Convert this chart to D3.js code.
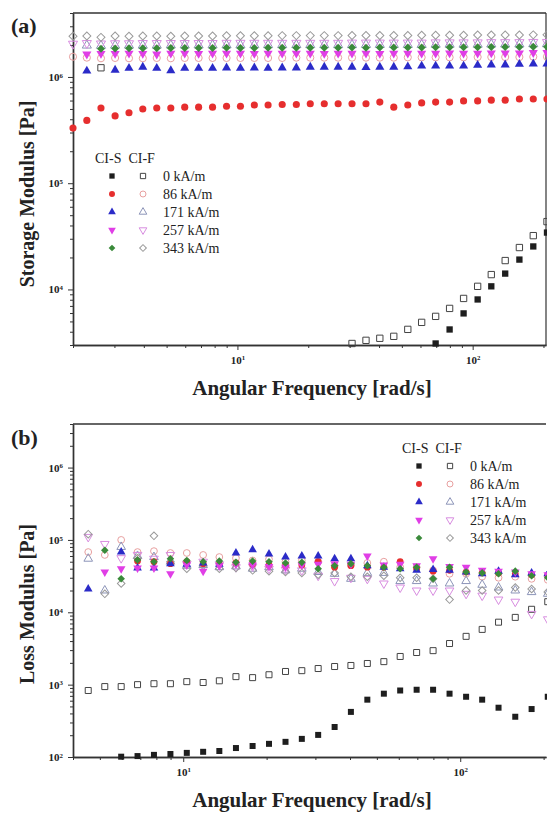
<!DOCTYPE html>
<html>
<head>
<meta charset="utf-8" />
<title>Storage and loss modulus vs angular frequency</title>
<script src="https://cdnjs.cloudflare.com/ajax/libs/d3/7.8.5/d3.min.js"></script>
<style>
  body { margin: 0; padding: 0; background: #fff; }
  svg { display: block; font-family: "Liberation Serif", "Times New Roman", serif; }
</style>
</head>
<body>
<div id="chart"></div>
<script>
var _ = null;

// ---- panel (a): storage modulus, Pa ----
var freqA = [2.0, 2.29, 2.63, 3.02, 3.46, 3.96, 4.54, 5.21, 5.97, 6.84, 7.84, 8.99, 10.3, 11.8, 13.5, 15.5, 17.8, 20.4,
             23.4, 26.8, 30.7, 35.2, 40.3, 46.2, 53.0, 60.7, 69.6, 79.8, 91.5, 105, 120, 137.5, 158, 181, 207];

var storS0   = [_, _, _, _, _, _, _, _, _, _, _, _, _, _, _, _, _, _, _, _, _, _, _, _, _, _,
                3100, 4200, 5950, 8050, 10700, 14100, 19100, 25400, 34300];
var storS86  = [3.3e5, 3.9e5, 5.1e5, 4.3e5, 4.6e5, 5.0e5, 5.1e5, 5.1e5, 5.2e5, 5.2e5, 5.2e5, 5.3e5, 5.3e5, 5.45e5, 5.45e5, 5.5e5, 5.5e5, 5.6e5,
                5.6e5, 5.6e5, 5.6e5, 5.6e5, 5.8e5, 5.2e5, 5.45e5, 5.7e5, 5.8e5, 5.8e5, 5.95e5, 5.95e5, 6.05e5, 6.05e5, 6.2e5, 6.2e5, 6.2e5];
var storS171 = [_, 1.14e6, _, 1.16e6, 1.21e6, 1.24e6, 1.21e6, 1.15e6, 1.21e6, 1.21e6, 1.21e6, 1.22e6, 1.21e6, 1.22e6, 1.21e6, 1.22e6, 1.22e6, 1.24e6,
                1.24e6, 1.24e6, 1.24e6, 1.23e6, 1.24e6, 1.24e6, 1.25e6, 1.27e6, 1.27e6, 1.27e6, 1.27e6, 1.29e6, 1.30e6, 1.30e6, 1.32e6, 1.33e6, 1.33e6];
var storS257 = [_, 1.64e6, 1.66e6, 1.66e6, 1.67e6, 1.66e6, 1.64e6, 1.67e6, 1.67e6, 1.66e6, 1.67e6, 1.67e6, 1.67e6, 1.66e6, 1.67e6, 1.67e6, 1.67e6, 1.67e6,
                1.66e6, 1.67e6, 1.67e6, 1.67e6, 1.66e6, 1.67e6, 1.67e6, 1.67e6, 1.67e6, 1.68e6, 1.67e6, 1.67e6, 1.68e6, 1.68e6, 1.68e6, 1.69e6, 1.69e6];
var storS343 = [_, _, 1.84e6, 1.85e6, 1.86e6, 1.86e6, 1.86e6, 1.87e6, 1.87e6, 1.87e6, 1.87e6, 1.88e6, 1.87e6, 1.87e6, 1.88e6, 1.88e6, 1.88e6, 1.88e6,
                1.88e6, 1.88e6, 1.89e6, 1.88e6, 1.89e6, 1.89e6, 1.89e6, 1.89e6, 1.90e6, 1.90e6, 1.90e6, 1.90e6, 1.91e6, 1.91e6, 1.91e6, 1.92e6, 1.92e6];
var storF0   = [_, _, 1.22e6, _, _, _, _, _, _, _, _, _, _, _, _, _, _, _, _, _,
                3100, 3320, 3470, 3620, 4210, 4900, 5580, 6630, 8230, 10700, 13800, 18700, 24800, 32100, 43500];
var storF86  = [1.55e6, 1.52e6, 1.50e6, 1.51e6, 1.50e6, 1.50e6, 1.51e6, 1.50e6, 1.51e6, 1.51e6, 1.51e6, 1.51e6, 1.51e6, 1.51e6, 1.51e6, 1.51e6, 1.52e6, 1.52e6,
                1.52e6, 1.52e6, 1.52e6, 1.52e6, 1.52e6, 1.52e6, 1.53e6, 1.53e6, 1.53e6, 1.53e6, 1.53e6, 1.54e6, 1.54e6, 1.54e6, 1.54e6, 1.55e6, 1.55e6];
var storF171 = [_, 1.98e6, 1.97e6, 1.98e6, 1.98e6, 1.98e6, 1.98e6, 1.99e6, 1.99e6, 1.99e6, 1.99e6, 1.99e6, 1.99e6, 2.00e6, 2.00e6, 2.00e6, 2.00e6, 2.00e6,
                2.00e6, 2.00e6, 2.00e6, 2.01e6, 2.01e6, 2.01e6, 2.01e6, 2.01e6, 2.02e6, 2.02e6, 2.02e6, 2.02e6, 2.03e6, 2.03e6, 2.03e6, 2.04e6, 2.04e6];
var storF257 = [2.05e6, 2.08e6, 2.06e6, 2.07e6, 2.07e6, 2.08e6, 2.08e6, 2.08e6, 2.08e6, 2.08e6, 2.08e6, 2.09e6, 2.09e6, 2.09e6, 2.09e6, 2.09e6, 2.09e6, 2.09e6,
                2.09e6, 2.09e6, 2.10e6, 2.10e6, 2.10e6, 2.10e6, 2.10e6, 2.10e6, 2.11e6, 2.11e6, 2.11e6, 2.11e6, 2.12e6, 2.12e6, 2.12e6, 2.13e6, 2.13e6];
var storF343 = [2.42e6, 2.43e6, 2.36e6, 2.43e6, 2.42e6, 2.43e6, 2.43e6, 2.42e6, 2.43e6, 2.43e6, 2.43e6, 2.44e6, 2.44e6, 2.44e6, 2.44e6, 2.45e6, 2.45e6, 2.45e6,
                2.45e6, 2.45e6, 2.46e6, 2.46e6, 2.46e6, 2.46e6, 2.46e6, 2.47e6, 2.47e6, 2.47e6, 2.47e6, 2.48e6, 2.48e6, 2.48e6, 2.48e6, 2.49e6, 2.49e6];

// ---- panel (b): loss modulus, Pa ----
var freqB = [4.54, 5.21, 5.97, 6.84, 7.84, 8.99, 10.3, 11.8, 13.5, 15.5, 17.8, 20.4, 23.4, 26.8, 30.7,
             35.2, 40.3, 46.2, 53.0, 60.7, 69.6, 79.8, 91.5, 105, 120, 137.5, 158, 181, 207];

var lossS0   = [_, _, 101, 103, 107, 110, 114, 118, 121, 133, 142, 152, 162, 178, 202,
                260, 420, 620, 750, 830, 850, 850, 750, 680, 620, 480, 360, 460, 680];
var lossS86  = [_, _, _, 5.1e4, 5.0e4, 4.7e4, 5.0e4, 4.7e4, 4.6e4, 4.8e4, 4.6e4, 4.5e4, 4.4e4, 4.5e4, 5.0e4,
                4.2e4, 4.4e4, 4.2e4, 4.2e4, 5.0e4, 4.0e4, 3.7e4, 3.8e4, 3.6e4, 3.5e4, 3.5e4, 3.4e4, 3.3e4, 3.2e4];
var lossS171 = [2.1e4, _, 6.8e4, 4.1e4, 4.1e4, 4.7e4, 4.6e4, 4.8e4, 4.6e4, 6.6e4, 7.3e4, 6.4e4, 5.8e4, 6.0e4, 6.0e4,
                5.5e4, 5.5e4, 4.4e4, 4.2e4, 4.0e4, 3.8e4, 3.9e4, 3.8e4, 3.6e4, 3.4e4, 3.7e4, 3.3e4, 3.5e4, 3.4e4];
var lossS257 = [_, 3.6e4, 4.0e4, 4.1e4, 4.1e4, 3.4e4, 4.5e4, 3.7e4, 4.4e4, 4.6e4, 4.5e4, 4.3e4, 4.2e4, 4.5e4, 4.6e4,
                4.7e4, 4.6e4, 6.0e4, 4.5e4, 4.6e4, 4.4e4, 5.5e4, 4.3e4, 4.2e4, 3.8e4, 3.7e4, 3.6e4, 3.4e4, 3.3e4];
var lossS343 = [_, 7.2e4, 2.9e4, 5.3e4, 5.0e4, 5.5e4, 5.2e4, 5.0e4, 5.1e4, 4.9e4, 5.1e4, 5.0e4, 4.8e4, 4.9e4, 4.0e4,
                4.4e4, 4.7e4, 4.4e4, 4.2e4, 4.0e4, 4.2e4, 2.9e4, 4.2e4, 3.6e4, 3.5e4, 3.4e4, 3.7e4, 3.2e4, 3.0e4];
var lossF0   = [830, 940, 940, 1000, 1030, 1030, 1100, 1070, 1130, 1290, 1250, 1370, 1520, 1560, 1670,
                1780, 1840, 1960, 2080, 2450, 2780, 2950, 3700, 4650, 5800, 7300, 8500, 11000, 14000];
var lossF86  = [6.8e4, 6.2e4, 1.0e5, 6.8e4, 7.0e4, 6.6e4, 6.6e4, 6.2e4, 5.8e4, 5.6e4, 5.2e4, 5.4e4, 5.0e4, 5.2e4, 5.0e4,
                4.4e4, 4.5e4, 4.8e4, 5.0e4, 4.2e4, 4.2e4, 3.8e4, 3.4e4, 3.4e4, 3.1e4, 3.0e4, 3.1e4, 2.9e4, 2.8e4];
var lossF171 = [5.5e4, 2.0e4, 8.0e4, 6.0e4, 5.8e4, 5.0e4, 4.4e4, 4.5e4, 4.2e4, 4.3e4, 4.0e4, 4.2e4, 3.8e4, 4.0e4, 3.6e4,
                3.4e4, 2.9e4, 3.5e4, 3.5e4, 2.7e4, 2.7e4, 2.5e4, 2.5e4, 2.7e4, 2.4e4, 2.2e4, 2.0e4, 1.9e4, 1.8e4];
var lossF257 = [1.1e5, 8.8e4, 5.6e4, 6.2e4, 5.5e4, 6.2e4, 4.7e4, 5.0e4, 4.6e4, 4.2e4, 4.3e4, 4.0e4, 3.9e4, 3.8e4, 3.2e4,
                2.7e4, 3.0e4, 2.9e4, 2.5e4, 2.2e4, 2.0e4, 2.0e4, 2.0e4, 1.8e4, 1.7e4, 1.5e4, 1.4e4, 9.5e3, 8.0e3];
var lossF343 = [1.2e5, 1.8e4, 2.5e4, 5.6e4, 1.14e5, 5.0e4, 4.0e4, 4.4e4, 4.0e4, 4.1e4, 3.8e4, 3.7e4, 3.6e4, 3.5e4, 3.3e4,
                3.5e4, 3.1e4, 3.1e4, 3.2e4, 3.0e4, 3.0e4, 2.9e4, 1.5e4, 2.0e4, 2.0e4, 2.0e4, 2.2e4, 2.1e4, 1.9e4];

var fieldLabels = ['0 kA/m', '86 kA/m', '171 kA/m', '257 kA/m', '343 kA/m'];

// marker looks, one per field strength (filled = CI-S, open = CI-F)
var shapes   = ['square', 'circle', 'up', 'down', 'diamond'];
var fillCols = ['#1e1e1e', '#e62e2e', '#2b2bc8', '#e03ee6', '#3a8a3a'];
var openCols = ['#444444', '#e8a0a0', '#8c94b8', '#d88ce0', '#9a9a9a'];

var W = 547, H = 813;
var svg = d3.select('#chart').append('svg').attr('width', W).attr('height', H);

function symPath(shape, size) {
  if (shape == 'square') return d3.symbol(d3.symbolSquare, size)();
  if (shape == 'circle') return d3.symbol(d3.symbolCircle, size)();
  if (shape == 'diamond') return d3.symbol(d3.symbolSquare, size * 0.8)();
  return d3.symbol(d3.symbolTriangle, size * 0.9)();
}
function symRot(shape) {
  if (shape == 'down') return ' rotate(180)';
  if (shape == 'diamond') return ' rotate(45)';
  return '';
}

function supTicks(g) {
  g.selectAll('.tick text').each(function(d) {
    var t = d3.select(this);
    t.text(null);
    t.append('tspan').text('10');
    t.append('tspan').attr('dy', '-0.5em').attr('font-size', '0.62em').text(Math.round(Math.log10(d)));
  });
}

function decadeTicks(dom, major) {
  var out = [];
  var lo = Math.floor(Math.log10(dom[0])), hi = Math.ceil(Math.log10(dom[1]));
  for (var e = lo; e <= hi; e++) {
    for (var m = 1; m < 10; m++) {
      var v = m * Math.pow(10, e);
      if (v < dom[0] || v > dom[1]) continue;
      if ((m == 1) == major) out.push(v);
    }
  }
  return out;
}

function panel(opt) {
  var x = d3.scaleLog().domain(opt.xDom).range([opt.left, opt.right]);
  var y = d3.scaleLog().domain(opt.yDom).range([opt.bottom, opt.top]);
  var g = svg.append('g');

  // frame: top line, optional right line
  g.append('line').attr('x1', opt.left).attr('x2', opt.right).attr('y1', opt.top).attr('y2', opt.top)
    .attr('stroke', '#333').attr('stroke-width', 1.4);
  if (opt.rightLine) {
    g.append('line').attr('x1', opt.right).attr('x2', opt.right).attr('y1', opt.top).attr('y2', opt.bottom)
      .attr('stroke', '#333').attr('stroke-width', 1.2);
  }

  // bottom axis
  var xMaj = g.append('g').attr('transform', 'translate(0,' + opt.bottom + ')')
    .call(d3.axisBottom(x).tickValues(decadeTicks(opt.xDom, true)).tickSize(5).tickSizeOuter(0).tickPadding(6));
  supTicks(xMaj);
  var xMin = g.append('g').attr('transform', 'translate(0,' + opt.bottom + ')')
    .call(d3.axisBottom(x).tickValues(decadeTicks(opt.xDom, false)).tickSize(3).tickSizeOuter(0).tickFormat(''));

  // left axis
  var yMaj = g.append('g').attr('transform', 'translate(' + opt.left + ',0)')
    .call(d3.axisLeft(y).tickValues(decadeTicks(opt.yDom, true)).tickSize(5).tickSizeOuter(0).tickPadding(5));
  supTicks(yMaj);
  var yMin = g.append('g').attr('transform', 'translate(' + opt.left + ',0)')
    .call(d3.axisLeft(y).tickValues(decadeTicks(opt.yDom, false)).tickSize(3).tickSizeOuter(0).tickFormat(''));

  [xMaj, xMin, yMaj, yMin].forEach(function(a) {
    a.select('.domain').attr('stroke', '#333').attr('stroke-width', 1.4);
    a.selectAll('.tick line').attr('stroke', '#333').attr('stroke-width', 1);
    a.selectAll('.tick text').attr('font-family', '"Liberation Serif", serif')
      .attr('font-size', 11).attr('font-weight', 'bold').attr('fill', '#222');
  });

  // series: open first, filled on top
  var order = [];
  for (var i = 0; i < 5; i++) order.push({vals: opt.open[i], shape: shapes[i], fill: 'none', stroke: openCols[i]});
  for (var i = 0; i < 5; i++) order.push({vals: opt.filled[i], shape: shapes[i], fill: fillCols[i], stroke: 'none'});

  order.forEach(function(s) {
    var pts = opt.freq.map(function(f, i) { return {f: f, v: s.vals[i]}; })
      .filter(function(d) { return d.v != null; });
    g.append('g').selectAll('path').data(pts).enter().append('path')
      .attr('d', symPath(s.shape, opt.msize))
      .attr('transform', function(d) { return 'translate(' + x(d.f) + ',' + y(d.v) + ')' + symRot(s.shape); })
      .attr('fill', s.fill).attr('stroke', s.stroke).attr('stroke-width', 1);
  });

  // titles
  g.append('text').attr('x', 312).attr('y', opt.xTitleY).attr('text-anchor', 'middle')
    .attr('font-size', 21).attr('font-weight', 'bold').attr('fill', '#222').text('Angular Frequency [rad/s]');
  g.append('text').attr('transform', 'translate(34,' + opt.yTitleY + ') rotate(-90)').attr('text-anchor', 'middle')
    .attr('font-size', 20).attr('font-weight', 'bold').attr('fill', '#222').text(opt.yTitle);
  g.append('text').attr('x', 11).attr('y', opt.tagY).attr('font-size', 22).attr('font-weight', 'bold')
    .attr('fill', '#222').text(opt.tag);

  // legend
  var L = opt.legend;
  g.append('text').attr('x', L.x).attr('y', L.y + 5).attr('font-size', 14).attr('fill', '#222')
    .attr('xml:space', 'preserve').text('CI-S  CI-F');
  fieldLabels.forEach(function(lab, i) {
    var cy = L.y + 18 * (i + 1);
    g.append('path').attr('d', symPath(shapes[i], 28))
      .attr('transform', 'translate(' + (L.x + 17) + ',' + cy + ')' + symRot(shapes[i]))
      .attr('fill', fillCols[i]);
    g.append('path').attr('d', symPath(shapes[i], 28))
      .attr('transform', 'translate(' + (L.x + 48) + ',' + cy + ')' + symRot(shapes[i]))
      .attr('fill', 'none').attr('stroke', openCols[i]).attr('stroke-width', 1);
    g.append('text').attr('x', L.x + 68).attr('y', cy + 5).attr('font-size', 14).attr('fill', '#222').text(lab);
  });
}

panel({
  freq: freqA,
  filled: [storS0, storS86, storS171, storS257, storS343],
  open: [storF0, storF86, storF171, storF257, storF343],
  xDom: [2, 205], yDom: [3000, 4e6],
  left: 73, right: 546, top: 13, bottom: 345,
  rightLine: true, msize: 40,
  xTitleY: 395, yTitle: 'Storage Modulus [Pa]', yTitleY: 194,
  tag: '(a)', tagY: 33,
  legend: {x: 95, y: 158}
});

panel({
  freq: freqB,
  filled: [lossS0, lossS86, lossS171, lossS257, lossS343],
  open: [lossF0, lossF86, lossF171, lossF257, lossF343],
  xDom: [4, 204], yDom: [100, 4e6],
  left: 73, right: 546, top: 424, bottom: 757,
  rightLine: false, msize: 36,
  xTitleY: 807, yTitle: 'Loss Modulus [Pa]', yTitleY: 604,
  tag: '(b)', tagY: 445,
  legend: {x: 402, y: 448}
});
</script>
</body>
</html>
